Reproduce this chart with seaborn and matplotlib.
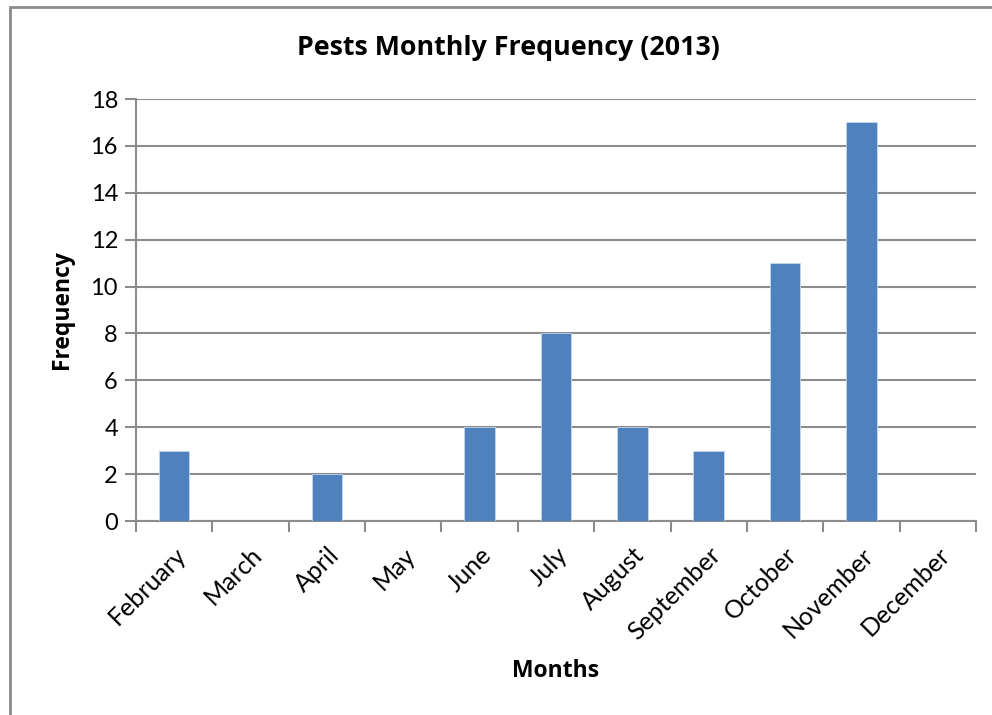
import matplotlib
matplotlib.use("Agg")
import matplotlib.pyplot as plt
import matplotlib.patches as mpatches
from matplotlib.ticker import FixedLocator
import seaborn as sns
import pandas as pd

months = ["February", "March", "April", "May", "June", "July",
          "August", "September", "October", "November", "December"]
frequency = [3, 0, 2, 0, 4, 8, 4, 3, 11, 17, 0]
y_ticks = [0, 2, 4, 6, 8, 10, 12, 14, 16, 18]

sns.set_theme(style="white")
plt.rcParams["font.family"] = ["Lato", "DejaVu Sans"]
plt.rcParams["text.color"] = "black"
bold_font = ["Open Sans", "DejaVu Sans"]

df = pd.DataFrame({"Months": months, "Frequency": frequency})

fig = plt.figure(figsize=(9.92, 7.15), dpi=100)
ax = fig.add_axes([136 / 992, 1 - 521 / 715, 840 / 992, 422 / 715])

sns.barplot(data=df, x="Months", y="Frequency", color="#4F81BD",
            width=0.4, saturation=1, edgecolor="#C5D6EC", linewidth=0.6,
            ax=ax, zorder=3)

grid_c = "#8C8C8C"
ax.set_ylim(0, 18)
ax.set_xlim(-0.5, len(months) - 0.5)
ax.set_yticks(y_ticks)
ax.yaxis.grid(True, color=grid_c, linewidth=1.5, zorder=0)
ax.xaxis.grid(False)
ax.set_axisbelow(True)

for side in ("top", "right"):
    ax.spines[side].set_visible(False)
for side in ("left", "bottom"):
    ax.spines[side].set_color(grid_c)
    ax.spines[side].set_linewidth(1.5)

ax.tick_params(axis="y", which="major", left=True, length=8, width=1.5,
               color=grid_c, labelsize=17, pad=5, labelcolor="black")
ax.tick_params(axis="x", which="major", bottom=False, length=0,
               labelsize=18, pad=16, labelcolor="black")
ax.xaxis.set_minor_locator(FixedLocator([i - 0.5 for i in range(len(months) + 1)]))
ax.tick_params(axis="x", which="minor", bottom=True, length=8, width=1.5,
               color=grid_c)

ax.set_xticks(range(len(months)))
ax.set_xticklabels(months, rotation=45, ha="right", rotation_mode="anchor")

ax.set_xlabel("Months", fontsize=16.5, fontweight="bold", family=bold_font,
              color="black", va="center")
ax.xaxis.set_label_coords(0.5, (521 - 671) / 422)
ax.set_ylabel("Frequency", fontsize=16.5, fontweight="bold", family=bold_font,
              color="black", va="center")
ax.yaxis.set_label_coords((62 - 136) / 840, 0.5)

fig.text(508 / 992, 1 - 48 / 715, "Pests Monthly Frequency (2013)",
         fontsize=19.3, fontweight="bold", family=bold_font,
         ha="center", va="center", color="black")

# chart area border
fig.patches.append(mpatches.Rectangle((10 / 992, -0.1), 1.2, 1 - 7 / 715 + 0.1,
                                      transform=fig.transFigure, fill=False,
                                      edgecolor="#8C8C8C", linewidth=2))

fig.savefig("out.png", dpi=100)
